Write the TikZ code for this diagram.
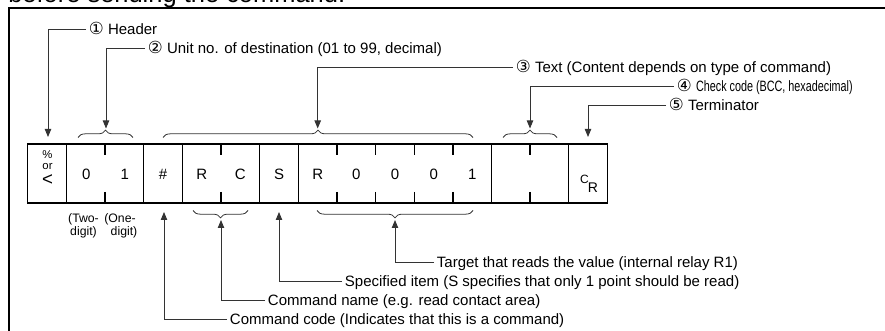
\documentclass[tikz,border=0pt]{standalone}
\usepackage{fontspec}
\setmainfont{Liberation Sans}
\newfontfamily\symfont{DejaVu Sans}
\usetikzlibrary{arrows.meta,decorations.pathreplacing}
\newcommand{\cnum}[1]{{\symfont\fontsize{12.5pt}{13pt}\selectfont #1}}
\begin{document}
\begin{tikzpicture}[x=0.75pt,y=-0.75pt,
  lbl/.style={font=\fontsize{11.25pt}{13pt}\selectfont, inner sep=2pt, anchor=west, text height=8pt, text depth=0pt},
  conn/.style={draw=black!80, line width=0.65pt},
  arr/.style={conn,-{Triangle[width=4.8pt,length=6pt]}},
  cellbox/.style={draw, line width=1.1pt, minimum height=44.25pt, inner sep=0pt},
  ch/.style={font=\fontsize{11.25pt}{13pt}\selectfont, inner sep=0pt},
  small/.style={font=\fontsize{8.5pt}{9pt}\selectfont, inner sep=0pt},
  note/.style={font=\fontsize{9.2pt}{11pt}\selectfont, inner sep=0pt},
  brc/.style={draw=black!80, line width=0.6pt, decorate, decoration={brace, amplitude=5.5pt}},
  brcm/.style={draw=black!80, line width=0.6pt, decorate, decoration={brace, mirror, amplitude=5.5pt}},
  tick/.style={line width=1.1pt}
]
\useasboundingbox (0,0) rectangle (885,331);
\clip (0,0) rectangle (885,331);
\node[anchor=base west, inner sep=0pt, font=\fontsize{19.1pt}{22pt}\selectfont] (title) at (8,3) {before sending the command.};
\draw[line width=1pt] (9,340) -- (9,8) -- (900,8);

% cells
\node[cellbox, minimum width=29pt] (c1) at (47.03,173.65) {};
\node[cellbox, minimum width=58pt] (c2) at (105.03,173.65) {};
\node[cellbox, minimum width=29pt] (c3) at (163.03,173.65) {};
\node[cellbox, minimum width=58pt] (c4) at (221.03,173.65) {};
\node[cellbox, minimum width=29pt] (c5) at (279.03,173.65) {};
\node[cellbox, minimum width=145pt] (c6) at (395.03,173.65) {};
\node[cellbox, minimum width=58pt] (c7) at (530.03,173.65) {};
\node[cellbox, minimum width=29pt] (c8) at (588.03,173.65) {};

\foreach \x in {105.03,221.03,337.03,375.7,414.37,453.03,530.03} {
  \draw[tick] (\x,144) -- (\x,155.5);
  \draw[tick] (\x,191.8) -- (\x,203.3);
}

% cell contents
\node[small] (pct) at (47.5,155) {\%};
\node[small] (or) at (47.5,166.5) {or};
\node[ch, font=\fontsize{14pt}{15pt}\selectfont] (lt) at (47.5,180.5) {<};
\node[ch] (d0) at (86.36,174.5) {0};
\node[ch] (d1) at (124.7,174.5) {1};
\node[ch] (hash) at (163.03,174.5) {\#};
\node[ch] (cr) at (201.7,174.5) {R};
\node[ch] (cc) at (240.36,174.5) {C};
\node[ch] (sS) at (279.03,174.5) {S};
\node[ch] (tR) at (317.7,174.5) {R};
\node[ch] (t0a) at (356.36,174.5) {0};
\node[ch] (t0b) at (395.03,174.5) {0};
\node[ch] (t0c) at (433.7,174.5) {0};
\node[ch] (t1d) at (472.36,174.5) {1};
\node[ch, font=\fontsize{9pt}{10pt}\selectfont] (crC) at (584.5,179) {C};
\node[ch, font=\fontsize{10.5pt}{11pt}\selectfont] (crR) at (593,188) {R};

% braces
\draw[brc] (78,137.5) -- (133,137.5);
\draw[brc] (163,137.5) -- (473,137.5);
\draw[brc] (503,137.5) -- (557,137.5);
\draw[brcm] (193,210.5) -- (248,210.5);
\draw[brcm] (317,210.5) -- (473,210.5);

% arrow end points
\coordinate (p1) at (48,137);
\coordinate (p2) at (106,128.5);
\coordinate (p3) at (317.7,128.5);
\coordinate (p4) at (530,128.5);
\coordinate (p5) at (588,137);
\coordinate (q1) at (395,220);
\coordinate (q2) at (279,212);
\coordinate (q3) at (221,220);
\coordinate (q4) at (164,212);

% top labels
\node[lbl] (t1) at (86,29) {\cnum{①} Header};
\node[lbl] (t2) at (145,48) {\cnum{②} Unit no. of destination (01 to 99, decimal)};
\node[lbl] (t3) at (513,67) {\cnum{③} Text (Content depends on type of command)};
\node[lbl] (t4) at (674,86.5) {\cnum{④} \scalebox{0.72}[1]{Check code (BCC, hexadecimal)}};
\node[lbl] (t5) at (666,105.5) {\cnum{⑤} Terminator};

\draw[arr] (t1.west) -| (p1);
\draw[arr] (t2.west) -| (p2);
\draw[arr] (t3.west) -| (p3);
\draw[arr] (t4.west) -| (p4);
\draw[arr] (t5.west) -| (p5);

% bottom labels
\node[lbl] (b1) at (434,262) {Target that reads the value (internal relay R1)};
\node[lbl] (b2) at (342,281) {Specified item (S specifies that only 1 point should be read)};
\node[lbl] (b3) at (265,300) {Command name (e.g. read contact area)};
\node[lbl] (b4) at (227,319) {Command code (Indicates that this is a command)};

\draw[arr] (b1.west) -| (q1);
\draw[arr] (b2.west) -| (q2);
\draw[arr] (b3.west) -| (q3);
\draw[arr] (b4.west) -| (q4);

% notes under the digits
\node[note] (two1) at (83.5,219) {(Two-};
\node[note] (two2) at (83.5,232) {digit)};
\node[note] (one1) at (120,219) {(One-};
\node[note] (one2) at (124,232) {digit)};
\end{tikzpicture}
\end{document}
